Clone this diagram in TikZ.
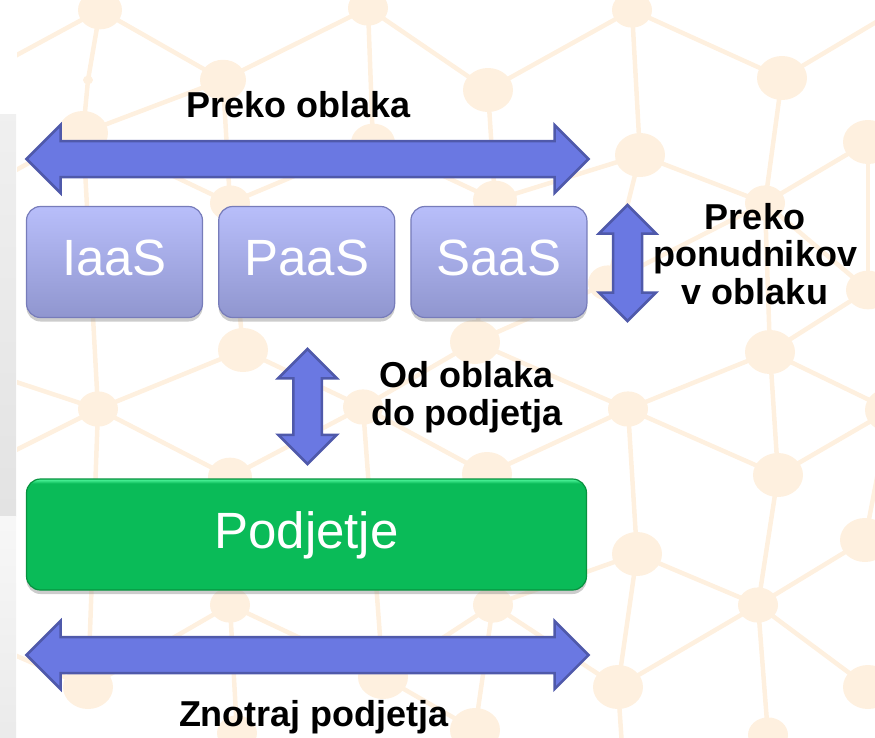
\documentclass[tikz,border=0pt]{standalone}
\usepackage{fontspec}
\setmainfont{Liberation Sans}
\usetikzlibrary{shapes.arrows,shadows,positioning}
\definecolor{netpeach}{HTML}{FEF0DF}
\definecolor{arrowblue}{HTML}{6A78E2}
\definecolor{arrowedge}{HTML}{4F59AA}
\definecolor{lilactop}{HTML}{B8BEFA}
\definecolor{lilacbot}{HTML}{9096CF}
\definecolor{lilacedge}{HTML}{777CBA}
\definecolor{firmgreen}{HTML}{0ABB58}
\definecolor{firmrim}{HTML}{45EE92}
\definecolor{firmedge}{HTML}{07923F}
\pgfdeclareverticalshading{firmshade}{100bp}{color(0bp)=(firmgreen);
    color(73bp)=(firmgreen); color(74.6bp)=(firmrim); color(100bp)=(firmrim)}
\tikzset{
    Box/.style = {rounded corners=14pt, minimum height=111pt, inner sep=0pt,
        text=white, text depth=8pt, font=\fontsize{51}{51}\selectfont,
        drop shadow={shadow xshift=0pt, shadow yshift=-4pt, opacity=0.4}},
    CloudBox/.style = {Box, minimum width=176pt, top color=lilactop,
        bottom color=lilacbot, draw=lilacedge, line width=1.2pt},
    BlockArrow/.style = {double arrow, double arrow head extend=16pt,
        fill=arrowblue, draw=arrowedge, line width=2.5pt, inner sep=#1},
    BlockArrow/.default = 16.75pt,
    Label/.style = {font=\bfseries\fontsize{36}{37.5}\selectfont,
        align=center, inner sep=0pt},
    NetLine/.style = {netpeach, line width=4.5pt}
}
% background net: name/x/y/radius
\def\netnodes{1/100/10/22, 2/368/8/20, 3/632/10/20, 4/223/80/23, 5/488/90/25,
    6/782/78/25, 7/88/80/5, 8/83/133/25, 9/373/143/22, 10/640/155/25,
    11/868/142/25, 12/230/203/20, 13/495/200/22, 14/765/203/20, 15/608/283/20,
    16/868/290/22, 17/243/350/25, 18/475/342/25, 19/770/352/25, 20/98/409/20,
    21/363/407/20, 22/628/409/20, 23/230/477/22, 24/487/474/25, 25/778/475/25,
    26/637/554/25, 27/865/540/25, 28/230/605/20, 29/493/605/20, 30/758/605/20,
    31/88/687/25, 32/383/677/25, 33/618/687/25, 34/868/687/25, 35/237/733/20,
    36/475/730/25, 37/768/735/20, 38/890/410/25}

\begin{document}
\begin{tikzpicture}[x=1pt,y=-1pt]
\useasboundingbox (0,0) rectangle (875,737);
% grey strip on the left
\fill[top color=black!6, bottom color=black!11] (0,114) rectangle (16,516);
\fill[top color=black!3, bottom color=black!8] (0,516) rectangle (16,737);

\begin{scope}
    \clip (17,0) rectangle (875,737);
    \foreach \n/\x/\y/\r in \netnodes
        {\coordinate (n\n) at (\x,\y);}
    % ends that leave the picture
    \coordinate (no1) at (-20,75);   \coordinate (no2) at (-20,190);
    \coordinate (no3) at (-20,370);  \coordinate (no4) at (-20,468);
    \coordinate (no5) at (-20,640);  \coordinate (no6) at (930,-10);
    \coordinate (no7) at (625,790);  \coordinate (no8) at (370,-60);
    \coordinate (no9) at (635,-60);  \coordinate (no10) at (930,100);
    \foreach \a/\b in {1/4, 1/7, 7/8, 1/o1, 8/o2, 8/4, 8/12, 4/2, 4/12, 2/9,
        2/5, 5/3, 3/6, 3/10, 5/13, 6/14, 6/o6, 10/13, 10/14, 14/11, 14/16,
        14/19, 12/9, 9/13, 10/15, 15/14, 15/18, 11/16, 11/o10, 16/19, 12/17,
        17/20, 17/21, 18/21, 18/13, 18/22, 20/o3, 20/o4, 20/23, 20/31, 8/20,
        21/23, 21/24, 21/32, 22/19, 22/24, 22/26, 22/25, 19/25, 19/38, 25/38,
        25/30, 26/29, 26/30, 30/27, 27/38, 30/33, 30/34, 30/37, 29/33, 29/36,
        29/32, 28/31, 28/32, 28/35, 23/28, 24/29, 31/o5, 33/o7, 2/o8, 3/o9,
        32/36, 26/33}
        {\draw[NetLine] (n\a) -- (n\b);}
    \foreach \n/\x/\y/\r in \netnodes
        {\fill[netpeach] (n\n) ellipse [x radius=\r, y radius=0.88*\r];}
\end{scope}

% cloud layers and the company
\node[CloudBox] (iaas) at (114.5,262) {IaaS};
\node[CloudBox, right=15pt of iaas] (paas) {PaaS};
\node[CloudBox, right=15pt of paas] (saas) {SaaS};
\node[Box, minimum width=560pt, shading=firmshade, draw=firmedge, line width=1.2pt]
    (firm) at (306.5,534.5) {Podjetje};

% block arrows
\node[BlockArrow, minimum height=562pt, minimum width=66pt] (across) at (307.5,159) {};
\node[BlockArrow=13.25pt, shape border rotate=90, double arrow head extend=14pt,
    minimum height=116pt, minimum width=57pt] (vendors) at (627.5,263) {};
\node[BlockArrow=13pt, shape border rotate=90, double arrow head extend=15pt,
    minimum height=115pt, minimum width=58pt] (tofirm) at (307.5,406.5) {};
\node[BlockArrow, minimum height=562pt, minimum width=66pt] (inside) at (307.5,655) {};

% labels
\node[Label, anchor=base] (acrosslbl) at (298.5,117) {Preko oblaka};
\node[Label] (vendorslbl) at (755,254) {Preko\\ponudnikov\\v oblaku};
\node[Label] (tofirmlbl) at (467,397) {Od oblaka\\do podjetja};
\node[Label, anchor=base] (insidelbl) at (314,726) {Znotraj podjetja};
\end{tikzpicture}
\end{document}
